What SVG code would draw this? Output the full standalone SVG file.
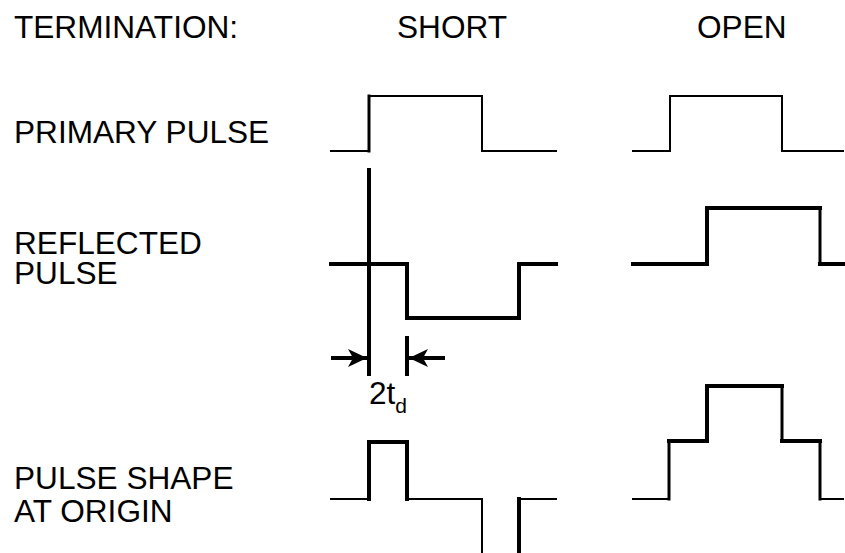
<svg xmlns="http://www.w3.org/2000/svg" width="845" height="553" viewBox="0 0 845 553">
  <style>
    .lbl { font-family: "Liberation Sans", Arial, sans-serif; font-size: 31.6px; fill: #000; }
    .sub { font-family: "Liberation Sans", Arial, sans-serif; font-size: 21px; fill: #000; }
    .w  { fill: none; stroke: #000; stroke-linecap: square; stroke-linejoin: miter; }
    .t1 { stroke-width: 2; }
    .t2 { stroke-width: 3; }
    .t3 { stroke-width: 4; }
  </style>
  <defs>
    <marker id="arrow" markerUnits="userSpaceOnUse" markerWidth="20" markerHeight="20" viewBox="-20 -10 20 20" refX="0" refY="0" orient="auto">
      <path d="M0,0 L-19,-9 L-14,0 L-19,9 Z" fill="#000"/>
    </marker>
  </defs>

  <!-- column and row labels -->
  <g id="labels">
    <text class="lbl" x="14" y="38">TERMINATION:</text>
    <text class="lbl" x="397" y="38">SHORT</text>
    <text class="lbl" x="697" y="38">OPEN</text>
    <text class="lbl" x="14" y="143">PRIMARY PULSE</text>
    <text class="lbl" x="14" y="254">REFLECTED</text>
    <text class="lbl" x="14" y="284">PULSE</text>
    <text class="lbl" x="14" y="489">PULSE SHAPE</text>
    <text class="lbl" x="14" y="522">AT ORIGIN</text>
  </g>

  <!-- short termination waveforms -->
  <g id="short-primary">
    <path class="w t1" d="M331,151 H369"/>
    <path class="w t2" d="M369,151 V96"/>
    <path class="w t1" d="M369,96 H482 V151 H556"/>
  </g>
  <g id="short-reflected">
    <path class="w t3" d="M331,264 H407 V318 H519 V264 H556"/>
  </g>
  <g id="short-origin">
    <path class="w t1" d="M331,499 H369"/>
    <path class="w t3" d="M369,499 V442 H407 V499"/>
    <path class="w t1" d="M407,499 H482 V553"/>
    <path class="w t3" d="M519,553 V499"/>
    <path class="w t1" d="M519,499 H556"/>
  </g>

  <!-- open termination waveforms -->
  <g id="open-primary">
    <path class="w t1" d="M633,151 H670 V96 H782 V151 H843"/>
  </g>
  <g id="open-reflected">
    <path class="w t3" d="M633,264 H707 V208 H820"/>
    <path class="w t2" d="M820,208 V264"/>
    <path class="w t3" d="M820,264 H843"/>
  </g>
  <g id="open-origin">
    <path class="w t1" d="M633,499 H669"/>
    <path class="w t2" d="M669,499 V441"/>
    <path class="w t3" d="M669,441 H707 V386 H782"/>
    <path class="w t2" d="M782,386 V441"/>
    <path class="w t3" d="M782,441 H820"/>
    <path class="w t2" d="M820,441 V499"/>
    <path class="w t1" d="M820,499 H843"/>
  </g>

  <!-- round-trip delay dimension -->
  <g id="connectors">
    <line class="w t3" x1="369" y1="170" x2="369" y2="374" stroke-linecap="butt"/>
    <line class="w t3" x1="407" y1="338" x2="407" y2="374" stroke-linecap="butt"/>
    <line x1="331" y1="358" x2="367" y2="358" stroke="#000" stroke-width="4" marker-end="url(#arrow)"/>
    <line x1="445" y1="358" x2="409" y2="358" stroke="#000" stroke-width="4" marker-end="url(#arrow)"/>
  </g>
  <g id="delay-label">
    <text class="lbl" x="369" y="404">2t<tspan class="sub" dy="9">d</tspan></text>
  </g>
</svg>
